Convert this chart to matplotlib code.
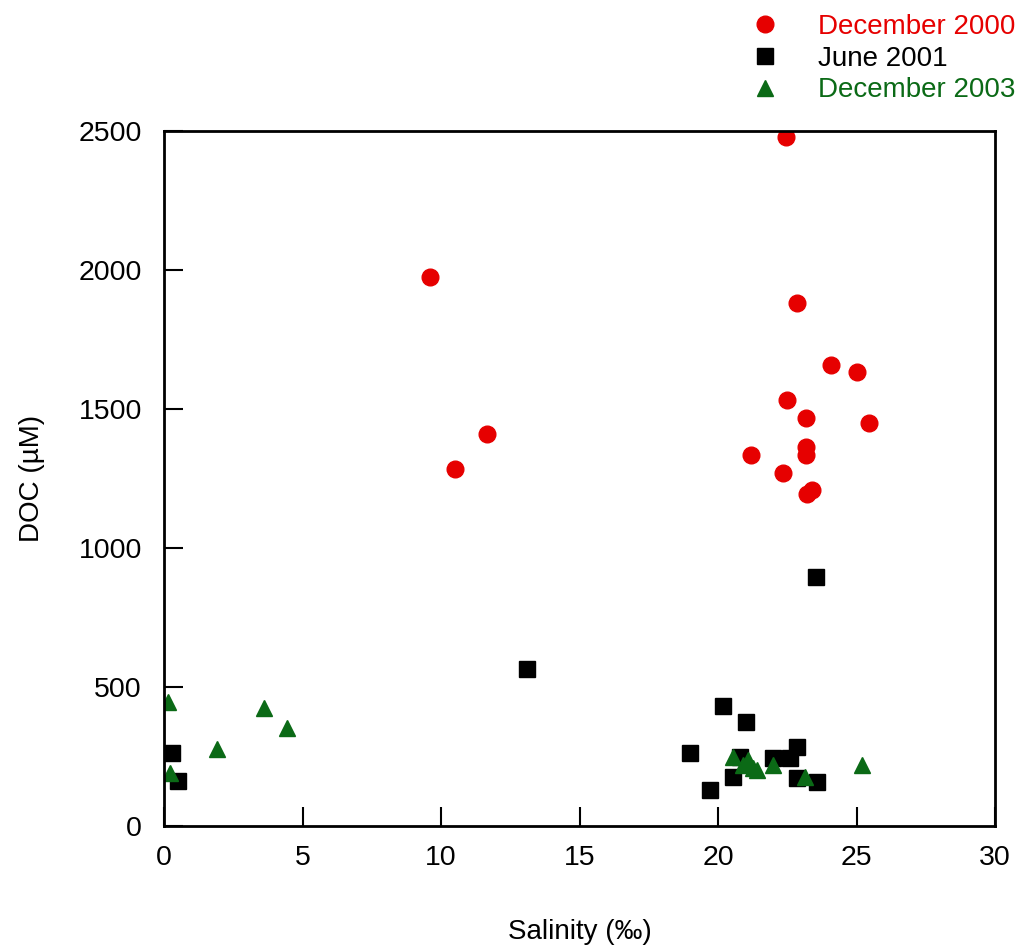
import matplotlib.pyplot as plt
import numpy as np
from matplotlib import rcParams
rcParams['font.family'] = ['Liberation Sans', 'DejaVu Sans']
rcParams['font.size'] = 20

# December 2000
sal_dec00 = [9.6, 10.5, 11.66, 22.45, 22.85, 24.08, 25.0, 25.45, 22.5, 23.17,
             23.17, 23.17, 21.2, 22.35, 23.2, 23.4]
doc_dec00 = [1975, 1284, 1410, 2478, 1881, 1658, 1633, 1450, 1532, 1468,
             1363, 1335, 1335, 1270, 1194, 1208]

# June 2001
sal_jun01 = [0.29, 0.5, 13.1, 23.54, 20.18, 21.0, 19.0, 19.7, 20.54, 20.8,
             21.98, 22.6, 22.85, 22.85, 23.57]
doc_jun01 = [263, 162, 565, 896, 432, 374, 263, 130, 176, 248,
             245, 245, 284, 173, 158]

# December 2003
sal_dec03 = [0.15, 0.2, 1.9, 3.6, 4.44, 20.54, 20.9, 21.08, 21.27, 21.4,
             22.0, 23.14, 25.2]
doc_dec03 = [446, 190, 277, 425, 352, 248, 219, 237, 209, 201,
             219, 176, 219]

red = '#e60000'
green = '#0b6a16'

fig = plt.figure(figsize=(10.2, 9.49), dpi=100)
ax = fig.add_axes([0.1608, 0.1296, 0.8147, 0.7324])

ax.plot(sal_dec00, doc_dec00, 'o', color=red, markersize=12, label='December 2000')
ax.plot(sal_jun01, doc_jun01, 's', color='black', markersize=11.5, label='June 2001')
ax.plot(sal_dec03, doc_dec03, '^', color=green, markersize=12, label='December 2003')

ax.set_xlim(0, 30)
ax.set_ylim(0, 2500)
ax.set_xticks([0, 5, 10, 15, 20, 25, 30])
ax.set_yticks([0, 500, 1000, 1500, 2000, 2500])
ax.tick_params(direction='in', length=14, width=1.5, labelsize=20.5)
ax.tick_params(axis='x', pad=14)
ax.tick_params(axis='y', pad=16)
for s in ax.spines.values():
    s.set_linewidth(2)

ax.set_xlabel('Salinity (‰)', labelpad=34)
ax.set_ylabel('DOC (µM)', labelpad=24)

leg = fig.legend(loc='upper right', bbox_to_anchor=(1.012, 1.003), frameon=False,
                 labelcolor=[red, 'black', green], handletextpad=1.42,
                 labelspacing=0.21, handlelength=1.0, borderaxespad=0.2)

fig.savefig('out.png', dpi=100)
